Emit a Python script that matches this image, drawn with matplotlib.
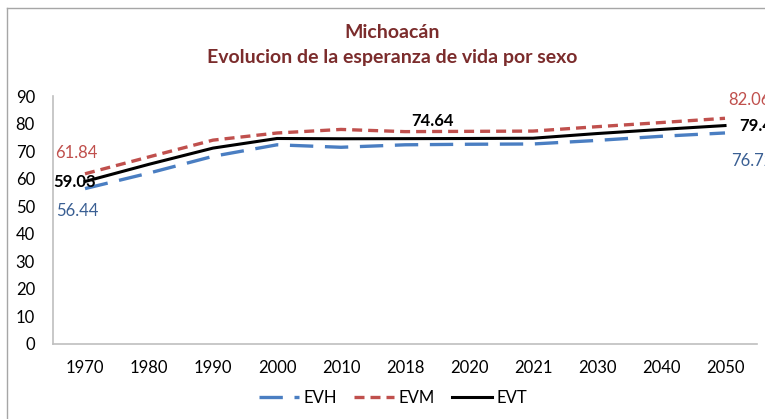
import matplotlib
matplotlib.use('Agg')
import matplotlib.pyplot as plt
from matplotlib.lines import Line2D

# Data
years = ['1970', '1980', '1990', '2000', '2010', '2018', '2020', '2021', '2030', '2040', '2050']
evh = [56.44, 62.1, 68.2, 72.4, 71.5, 72.4, 72.6, 72.7, 74.0, 75.5, 76.72]
evm = [61.84, 68.0, 74.1, 76.7, 78.0, 77.2, 77.3, 77.4, 79.0, 80.5, 82.06]
evt = [59.03, 65.3, 71.2, 74.7, 74.6, 74.64, 74.7, 74.8, 76.5, 78.0, 79.41]

plt.rcParams['font.family'] = ['Lato', 'DejaVu Sans']

fig = plt.figure(figsize=(7.65, 4.19), dpi=100)
ax = fig.add_axes([53/765, 1-343.5/419, (757-53)/765, (343.5-96.5)/419])

x = list(range(len(years)))
blue = '#4A7EC2'
red = '#C0504D'
ax.plot(x, evh, color=blue, lw=2.4, dashes=(7, 3.5), label='EVH')
ax.plot(x, evm, color=red, lw=2.4, dashes=(3, 1.8), label='EVM')
ax.plot(x, evt, color='black', lw=2.2, label='EVT')

ax.set_xlim(-0.5, len(years) - 0.5)
ax.set_ylim(0, 90)
ax.set_yticks(range(0, 91, 10))
ax.set_xticks(x)
ax.set_xticklabels(years)
ax.tick_params(length=0, labelsize=12, colors='black')
ax.tick_params(axis='y', pad=13)
ax.tick_params(axis='x', pad=12)
for s in ['top', 'right']:
    ax.spines[s].set_visible(False)
for s in ['left', 'bottom']:
    ax.spines[s].set_color('#BFBFBF')
    ax.spines[s].set_linewidth(1.2)

# data labels
lblue = '#3A5F93'
def lab(i, v, txt, dx, dy, col, bold=False, ha='center'):
    ax.annotate(txt, (i, v), xytext=(dx, dy), textcoords='offset pixels',
                ha=ha, va='center', fontsize=12, color=col,
                fontweight='bold' if bold else 'normal', annotation_clip=False)

lab(0, evm[0], '61.84', -9, 21, red)
lab(0, evt[0], '59.03', -10, -1, 'black', bold=True)
lab(0, evh[0], '56.44', -8, -22, lblue)
lab(5, evt[5], '74.64', 27, 18, 'black', bold=True)
lab(10, evm[10], '82.06', 3, 18, red, ha='left')
lab(10, evt[10], '79.41', 14, 0, 'black', bold=True, ha='left')
lab(10, evh[10], '76.72', 6, -28, lblue, ha='left')

# title
fig.text(392/765, 1-33/419, 'Michoacán', ha='center', va='center',
         fontsize=14, fontweight='bold', color='#7B2C2C')
fig.text(392/765, 1-58/419, 'Evolucion de la esperanza de vida por sexo', ha='center',
         va='center', fontsize=14, fontweight='bold', color='#7B2C2C')

# legend
handles = [Line2D([], [], color=blue, lw=2.4, dashes=(7, 3.5)),
           Line2D([], [], color=red, lw=2.4, dashes=(3, 1.8)),
           Line2D([], [], color='black', lw=2.2)]
fig.legend(handles, ['EVH', 'EVM', 'EVT'], loc='center', bbox_to_anchor=(393/765, 1-398/419),
           ncol=3, frameon=False, fontsize=12, handlelength=2.4, columnspacing=1.0,
           handletextpad=0.3)

# chart border
fig.add_artist(Line2D([7/765, 1], [1-8/419, 1-8/419], color='#A6A6A6', lw=1))
fig.add_artist(Line2D([7/765, 7/765], [1-8/419, 0], color='#A6A6A6', lw=1))

fig.savefig('out.png', dpi=100)
